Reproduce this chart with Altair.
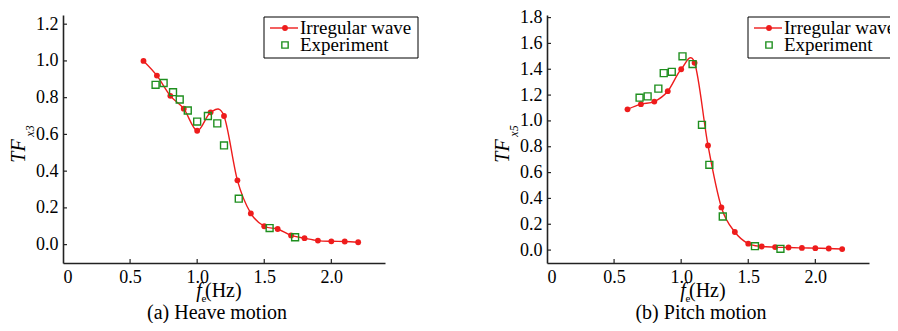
import altair as alt
import pandas as pd

# ---------------- data ----------------
freq_sim = [0.6, 0.7, 0.8, 0.9, 1.0, 1.1, 1.2, 1.3, 1.4, 1.5, 1.6, 1.7, 1.8, 1.9, 2.0, 2.1, 2.2]
heave_sim = [1.00, 0.92, 0.81, 0.74, 0.62, 0.72, 0.70, 0.35, 0.17, 0.10, 0.085, 0.05, 0.035, 0.022, 0.018, 0.017, 0.013]
pitch_sim = [1.09, 1.13, 1.15, 1.23, 1.40, 1.45, 0.81, 0.33, 0.14, 0.05, 0.028, 0.023, 0.020, 0.017, 0.015, 0.012, 0.008]

heave_exp_f = [0.69, 0.75, 0.82, 0.87, 0.93, 1.00, 1.08, 1.15, 1.20, 1.31, 1.54, 1.73]
heave_exp = [0.87, 0.88, 0.83, 0.79, 0.73, 0.67, 0.70, 0.66, 0.54, 0.25, 0.09, 0.04]
pitch_exp_f = [0.69, 0.75, 0.83, 0.87, 0.93, 1.01, 1.085, 1.155, 1.21, 1.31, 1.55, 1.74]
pitch_exp = [1.18, 1.19, 1.25, 1.37, 1.38, 1.50, 1.44, 0.97, 0.66, 0.26, 0.03, 0.01]

x_ticks = [0, 0.5, 1.0, 1.5, 2.0]
heave_y_ticks = [0.0, 0.2, 0.4, 0.6, 0.8, 1.0, 1.2]
pitch_y_ticks = [0.0, 0.2, 0.4, 0.6, 0.8, 1.0, 1.2, 1.4, 1.6, 1.8]
legend_labels = ["Irregular wave", "Experiment"]
captions = ["(a) Heave motion", "(b) Pitch motion"]
y_title = "TF"
y_subs = ["x3", "x5"]
x_title = ["f", "e", "(Hz)"]

# ---------------- layout / styling ----------------
PW, H = 322, 248          # each panel's plot area
X0_RIGHT = 484            # left edge of the second panel (px from the first one)
PAD_L, PAD_T = 55, 7
TOTAL_W, TOTAL_H = 882, 315
RED = "#ee1c1c"
GREEN = "#1f8f1f"
AX = "#222222"
FONT = "Liberation Serif"


def one(v):
    return pd.DataFrame({"label": [v]})


def text_layer(v, x, y, size, align="center", italic=False, angle=0):
    kw = dict(font=FONT, fontSize=size, align=align, baseline="middle", color="black")
    if italic:
        kw["fontStyle"] = "italic"
    if angle:
        kw["angle"] = angle
    return alt.Chart(one(v)).mark_text(**kw).encode(
        text="label:N", x=alt.value(x), y=alt.value(y)
    )


def panel(x0, sim, exp_f, exp, ydomain, yticks, sub, caption):
    sim_df = pd.DataFrame({"f": freq_sim, "v": sim})
    exp_df = pd.DataFrame({"f": exp_f, "v": exp})
    xs = alt.Scale(domain=[0, 2.4], range=[x0, x0 + PW], nice=False, zero=False)
    ys = alt.Scale(domain=ydomain, range=[H, 0], nice=False, zero=False)
    common = dict(
        ticks=False, grid=False, title=None,
        labelFont=FONT, labelFontSize=18, labelColor="black",
        domainColor=AX, domainWidth=1.6, labelPadding=5,
    )
    xax = alt.Axis(
        values=x_ticks, orient="bottom",
        labelExpr="datum.value == 0 ? '0' : format(datum.value, '.1f')",
        **common,
    )
    yax = alt.Axis(values=yticks, format=".1f", orient="left", offset=-x0, **common)
    X = lambda fld: alt.X(fld, scale=xs, axis=xax)
    Y = lambda fld: alt.Y(fld, scale=ys, axis=yax)

    line = alt.Chart(sim_df).mark_line(
        color=RED, strokeWidth=1.4, interpolate="cardinal", tension=0
    ).encode(x=X("f:Q"), y=Y("v:Q"))
    pts = alt.Chart(sim_df).mark_circle(color=RED, size=34, opacity=1).encode(
        x=X("f:Q"), y=Y("v:Q")
    )
    sq = alt.Chart(exp_df).mark_point(
        shape="square", filled=False, color=GREEN, size=48, strokeWidth=1.4, opacity=1
    ).encode(x=X("f:Q"), y=Y("v:Q"))

    # inward tick marks
    xt = alt.Chart(pd.DataFrame({"t": x_ticks[1:]})).mark_rule(color=AX, strokeWidth=1.2).encode(
        x=X("t:Q"), y=alt.value(H), y2=alt.value(H - 4)
    )
    yt = alt.Chart(pd.DataFrame({"t": yticks})).mark_rule(color=AX, strokeWidth=1.2).encode(
        y=Y("t:Q"), x=alt.value(x0), x2=alt.value(x0 + 4)
    )

    # legend box (top-right of the panel)
    box = alt.Chart(one("box")).mark_rect(fill="white", stroke="black", strokeWidth=1).encode(
        x=alt.value(x0 + 201), x2=alt.value(x0 + 355), y=alt.value(2), y2=alt.value(43)
    )
    lg_line = alt.Chart(one("l")).mark_rule(color=RED, strokeWidth=1.4).encode(
        x=alt.value(x0 + 207), x2=alt.value(x0 + 235), y=alt.value(13)
    )
    lg_dot = alt.Chart(one("d")).mark_circle(color=RED, size=34, opacity=1).encode(
        x=alt.value(x0 + 222), y=alt.value(13)
    )
    lg_sq = alt.Chart(one("s")).mark_point(
        shape="square", filled=False, color=GREEN, size=40, strokeWidth=1.4, opacity=1
    ).encode(x=alt.value(x0 + 222), y=alt.value(30))
    lg_t1 = text_layer(legend_labels[0], x0 + 237, 13, 19, align="left")
    lg_t2 = text_layer(legend_labels[1], x0 + 237, 30, 19, align="left")

    # axis titles & caption
    t_tf = text_layer(y_title, x0 - 44, 136, 20, italic=True, angle=270)
    t_sub = text_layer(sub, x0 - 33, 116, 12, italic=True, angle=270)
    t_f = text_layer(x_title[0], x0 + 136, 276, 20, italic=True)
    t_e = text_layer(x_title[1], x0 + 141, 284, 11)
    t_hz = text_layer(x_title[2], x0 + 142, 276, 20, align="left")
    t_cap = text_layer(caption, x0 + 154, 298, 20)

    return alt.layer(
        line, pts, sq, xt, yt,
        box, lg_line, lg_dot, lg_sq, lg_t1, lg_t2,
        t_tf, t_sub, t_f, t_e, t_hz, t_cap,
    )


left = panel(0, heave_sim, heave_exp_f, heave_exp, [-0.1, 1.25], heave_y_ticks, y_subs[0], captions[0])
right = panel(X0_RIGHT, pitch_sim, pitch_exp_f, pitch_exp, [-0.1, 1.82], pitch_y_ticks, y_subs[1], captions[1])

chart = (
    alt.layer(left, right)
    .resolve_scale(x="independent", y="independent")
    .properties(
        width=TOTAL_W - PAD_L,
        height=H,
        autosize=alt.AutoSizeParams(type="none"),
        padding={"left": PAD_L, "top": PAD_T, "right": 0, "bottom": TOTAL_H - PAD_T - H},
        background="white",
    )
    .configure_view(stroke=None)
)

chart.save("out.html", embed_options={"renderer": "svg", "actions": False})
